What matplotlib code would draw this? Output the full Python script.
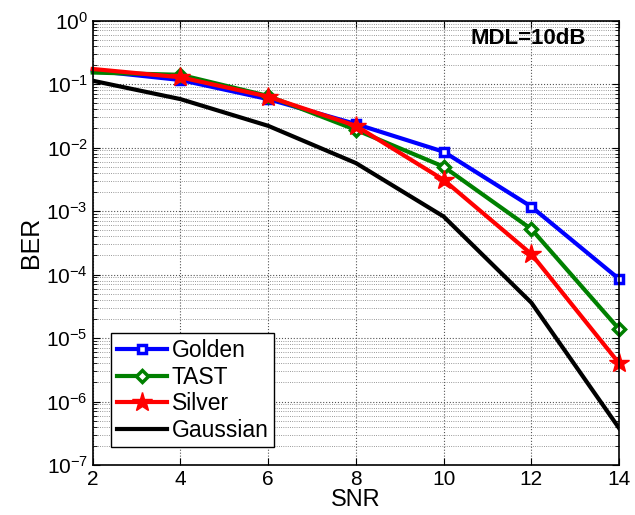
import matplotlib

matplotlib.use("Agg")
import matplotlib.pyplot as plt

plt.rcParams["font.family"] = ["Liberation Sans", "DejaVu Sans"]

snr = [2, 4, 6, 8, 10, 12, 14]
ber_golden = [0.163, 0.116, 0.058, 0.0235, 8.6e-3, 1.17e-3, 8.5e-5]
ber_tast = [0.152, 0.14, 0.065, 0.019, 5.0e-3, 5.2e-4, 1.38e-5]
ber_silver = [0.173, 0.128, 0.0635, 0.022, 3.1e-3, 2.1e-4, 4.0e-6]
ber_gauss = [0.113, 0.058, 0.022, 5.7e-3, 8.2e-4, 3.6e-5, 3.8e-7]

fig = plt.figure(figsize=(6.35, 5.15), dpi=100)
ax = fig.add_axes([0.146, 0.097, 0.829, 0.863])

# no markers visible at the left edge in the original
mk = list(range(1, len(snr)))
ax.semilogy(snr, ber_golden, "-s", color="#0000ff", lw=3, ms=6, mew=2.5,
            mfc="white", mec="#0000ff", markevery=mk, clip_on=False, label="Golden")
ax.semilogy(snr, ber_tast, "-D", color="#008000", lw=3, ms=6, mew=2.5,
            mfc="white", mec="#008000", markevery=mk, clip_on=False, label="TAST")
ax.semilogy(snr, ber_silver, "-*", color="#ff0000", lw=3, ms=15, mew=1,
            mfc="#ff0000", mec="#ff0000", markevery=mk, clip_on=False, label="Silver")
ax.semilogy(snr, ber_gauss, "-", color="black", lw=3, label="Gaussian")

ax.set_xlim(2, 14)
ax.set_ylim(1e-7, 1)
ax.set_xticks(snr)
ax.set_yticks([10.0 ** k for k in range(-7, 1)])
ax.grid(True, which="major", ls=":", color="#555555", lw=0.8)
ax.grid(True, which="minor", axis="y", ls=":", color="#777777", lw=0.6)
ax.tick_params(which="both", direction="in", top=True, right=True, labelsize=15)
ax.tick_params(which="major", length=5)
ax.tick_params(which="minor", length=3)
for s in ax.spines.values():
    s.set_linewidth(1.2)
    s.set_zorder(3)

ax.set_xlabel("SNR", fontsize=17, labelpad=0)
ax.set_ylabel("BER", fontsize=18, labelpad=2)

ax.text(0.827, 0.959, "MDL=10dB", transform=ax.transAxes, fontsize=16,
        fontweight="bold", ha="center", va="center")

leg = ax.legend(loc="lower left", bbox_to_anchor=(0.035, 0.04), fontsize=16.5,
                fancybox=False, framealpha=1, edgecolor="black", numpoints=1,
                handlelength=2.2, borderpad=0.25, labelspacing=0.15,
                handletextpad=0.2, borderaxespad=0)
leg.get_frame().set_linewidth(1.0)
for h in leg.legend_handles:
    h.set_markevery([1])

fig.savefig("out.png", dpi=100)
